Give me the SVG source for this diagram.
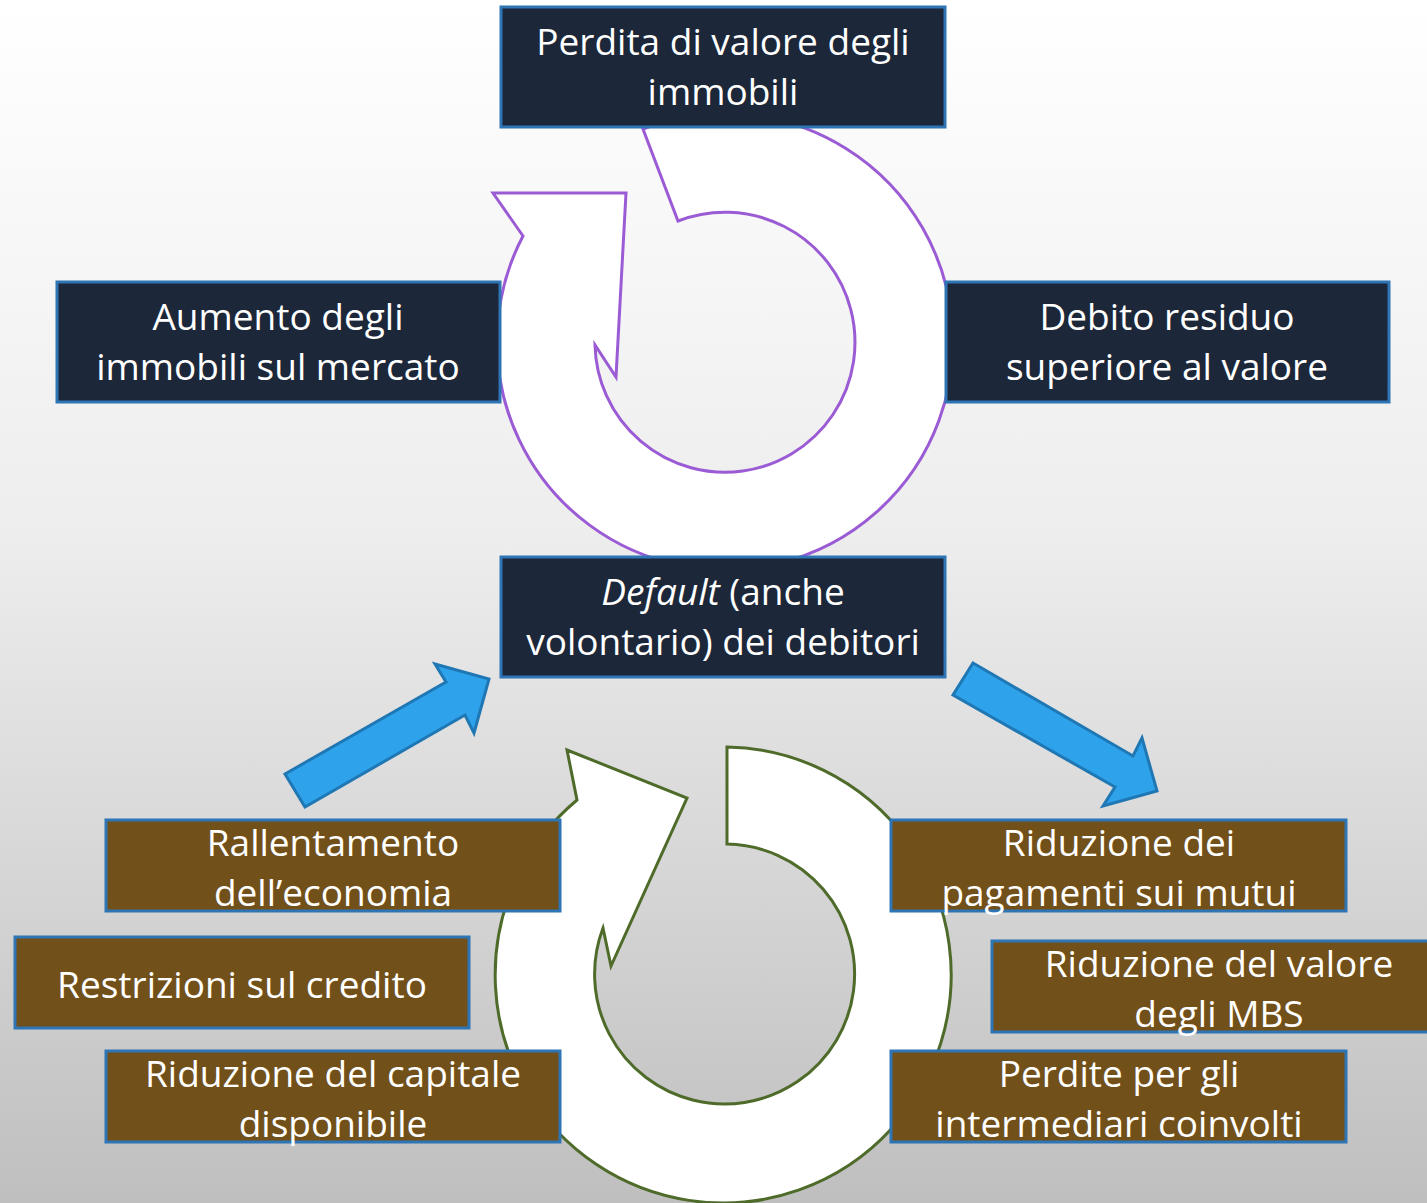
<svg xmlns="http://www.w3.org/2000/svg" width="1427" height="1203" viewBox="0 0 1427 1203">
<defs>
<linearGradient id="bg" x1="0" y1="0" x2="0" y2="1">
<stop offset="0" stop-color="#FFFFFF"/>
<stop offset="0.45" stop-color="#EDEDED"/>
<stop offset="1" stop-color="#BFBFBF"/>
</linearGradient>
<style>
.dark{fill:#1C2739;stroke:#2E75B6;stroke-width:3}
.brown{fill:#72501A;stroke:#2E75B6;stroke-width:3}
.t{font-family:'Open Sans','Noto Sans',sans-serif;font-size:37px;fill:#FFFFFF;text-anchor:middle}
.blue{fill:#2EA3EC;stroke:#1F77B4;stroke-width:3;stroke-linejoin:miter}
</style>
</defs>
<rect x="0" y="0" width="1427" height="1203" fill="url(#bg)"/>

<g id="cycle-top">
<path d="M 643 129 A 228 228 0 1 1 523 236 L 493 193 L 626 193 L 616 377 L 595 345 A 130 130 0 1 0 678 221 Z" fill="#FFFFFF" stroke="#9B5BD4" stroke-width="3"/>
</g>
<g id="cycle-bottom">
<path d="M 727 747 L 727 844 A 130 130 0 1 1 603 928 L 611 966 L 687 798 L 567 750 L 577 800 A 228 228 0 1 0 727 747 Z" fill="#FFFFFF" stroke="#4E6B2A" stroke-width="3"/>
</g>

<g id="connectors">
<polygon class="blue" points="285,774 446,682 435,664 489,679 474,733 465,715 305,807"/>
<polygon class="blue" points="973,663 1133,756 1142,738 1157,791 1103,806 1115,787 953,695"/>
</g>

<g id="n-perdita-valore">
<rect class="dark" x="501" y="7" width="444" height="120"/>
<text class="t" x="723" y="55">Perdita di valore degli</text>
<text class="t" x="723" y="105">immobili</text>
</g>
<g id="n-aumento">
<rect class="dark" x="57" y="282" width="443" height="120"/>
<text class="t" x="278" y="330">Aumento degli</text>
<text class="t" x="278" y="380">immobili sul mercato</text>
</g>
<g id="n-debito">
<rect class="dark" x="946" y="282" width="443" height="120"/>
<text class="t" x="1167" y="330">Debito residuo</text>
<text class="t" x="1167" y="380">superiore al valore</text>
</g>
<g id="n-default">
<rect class="dark" x="501" y="557" width="444" height="120"/>
<text class="t" x="723" y="605"><tspan font-style="italic">Default</tspan> (anche</text>
<text class="t" x="723" y="655">volontario) dei debitori</text>
</g>
<g id="n-rallentamento">
<rect class="brown" x="106" y="820" width="454" height="91"/>
<text class="t" x="333" y="856">Rallentamento</text>
<text class="t" x="333" y="906">dell’economia</text>
</g>
<g id="n-restrizioni">
<rect class="brown" x="15" y="937" width="454" height="91"/>
<text class="t" x="242" y="998">Restrizioni sul credito</text>
</g>
<g id="n-capitale">
<rect class="brown" x="106" y="1051" width="454" height="91"/>
<text class="t" x="333" y="1087">Riduzione del capitale</text>
<text class="t" x="333" y="1137">disponibile</text>
</g>
<g id="n-pagamenti">
<rect class="brown" x="891" y="820" width="455" height="91"/>
<text class="t" x="1119" y="856">Riduzione dei</text>
<text class="t" x="1119" y="906">pagamenti sui mutui</text>
</g>
<g id="n-mbs">
<rect class="brown" x="992" y="941" width="450" height="91"/>
<text class="t" x="1219" y="977">Riduzione del valore</text>
<text class="t" x="1219" y="1027">degli MBS</text>
</g>
<g id="n-perdite">
<rect class="brown" x="891" y="1051" width="455" height="91"/>
<text class="t" x="1119" y="1087">Perdite per gli</text>
<text class="t" x="1119" y="1137">intermediari coinvolti</text>
</g>
</svg>
